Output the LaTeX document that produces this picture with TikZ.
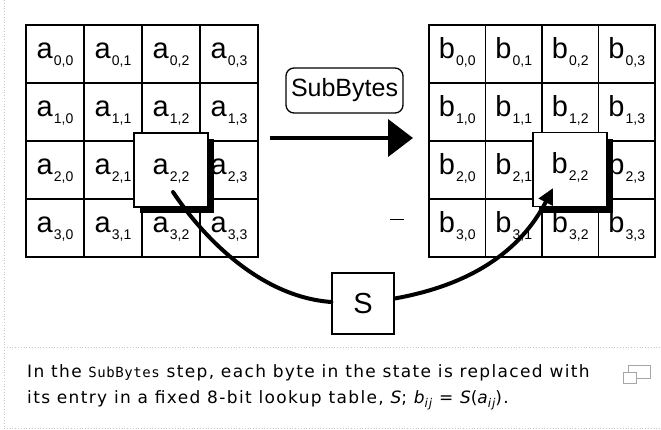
\documentclass[tikz,border=0pt]{standalone}
\usepackage{fontspec}
\setmainfont{Liberation Sans}
\newfontfamily\capfont[LetterSpace=8]{DejaVu Sans}
\newfontfamily\capmono[LetterSpace=4]{DejaVu Sans Mono}
\usetikzlibrary{arrows.meta,shadows}
\newcommand{\celltxt}[2]{{\fontsize{29}{29}\selectfont #1}\hspace{1pt}\raisebox{-7pt}{\fontsize{14}{14}\selectfont #2}}
\tikzset{
  x=1pt,y=-1pt,
  gridcell/.style={draw=black,line width=1.2pt,rectangle,minimum height=58pt,inner sep=0pt,text height=20pt,text depth=12pt},
  lcell/.style={gridcell,minimum width=58pt},
  rcell/.style={gridcell,minimum width=56.5pt},
  hlbox/.style={draw=black,line width=1.5pt,fill=white,minimum width=74pt,minimum height=74pt,inner sep=0pt,text height=20pt,text depth=12pt,
    drop shadow={shadow xshift=6pt,shadow yshift=-6pt,fill=black,opacity=1}},
  labelbox/.style={draw=black,line width=1.3pt,rounded corners=8pt,minimum width=117pt,minimum height=45pt,inner sep=0pt,font=\fontsize{25}{25}\selectfont},
  sbox/.style={draw=black,line width=1.3pt,minimum width=62pt,minimum height=61pt,inner sep=0pt,font=\fontsize{29}{29}\selectfont},
  bigarrow/.style={line width=4pt,-{Triangle[length=25pt,width=37pt]}},
  curvearrow/.style={line width=4pt,line cap=round},
  captext/.style={anchor=base west,inner sep=0pt,font=\capfont\fontsize{17}{17}\selectfont},
  framegray/.style={draw=gray!45,line width=0.8pt,dotted}
}
\begin{document}
\begin{tikzpicture}
\useasboundingbox (0,0) rectangle (661,429);
\fill[white] (0,0) rectangle (661,429);
% faint frame
\draw[framegray] (4,0) -- (4,429);
\draw[framegray] (4,347) -- (661,347);
\draw[framegray] (4,428) -- (661,428);
% left grid
\foreach \r in {0,...,3}{
  \foreach \c in {0,...,3}{
    \node[lcell] (a-\r-\c) at ({55+58*\c},{54+58*\r}) {\celltxt{a}{\r,\c}};
  }
}
% right grid
\foreach \r in {0,...,3}{
  \foreach \c in {0,...,3}{
    \node[rcell] (b-\r-\c) at ({457.25+56.5*\c},{54+58*\r}) {\celltxt{b}{\r,\c}};
  }
}
% highlighted cells
\node[hlbox] (a22) at (171,170) {\celltxt{a}{2,2}};
\node[hlbox] (b22) at (570,169.5) {\celltxt{b}{2,2}};
% SubBytes label and arrow
\node[labelbox] (sb) at (344.5,90.5) {SubBytes};
\coordinate (arrS) at (270,138);
\coordinate (arrE) at (413,138);
\draw[bigarrow] (arrS) -- (arrE);
% stray mark
\coordinate (m1) at (390,219);
\coordinate (m2) at (404,219);
\draw[line width=1pt] (m1) -- (m2);
% S box and curves
\node[sbox] (S) at (363,303.5) {S};
\coordinate (c1) at (173,192);
\coordinate (c2) at (553,188);
\draw[curvearrow] (c1) .. controls (205,240) and (262,297) .. ([yshift=1.5pt]S.west);
\draw[line width=4pt,-{Triangle[length=16pt,width=15pt]}] ([yshift=5pt]S.east) .. controls (470,285) and (520,252) .. (c2);
% caption
\node[captext] (cap1) at (27,377) {In the {\capmono\fontsize{14}{14}\selectfont SubBytes} step, each byte in the state is replaced with};
\node[captext] (cap2) at (27,403) {its entry in a fixed 8-bit lookup table, {\itshape S}; {\itshape b}\raisebox{-4pt}{\fontsize{12}{12}\selectfont\itshape ij} = {\itshape S}({\itshape a}\raisebox{-4pt}{\fontsize{12}{12}\selectfont\itshape ij}).};
% magnify icon
\draw[gray!70,line width=0.8pt] (628,365) rectangle (650,378);
\draw[gray!70,line width=0.8pt,fill=white] (623,372) rectangle (636,383);
\end{tikzpicture}
\end{document}
